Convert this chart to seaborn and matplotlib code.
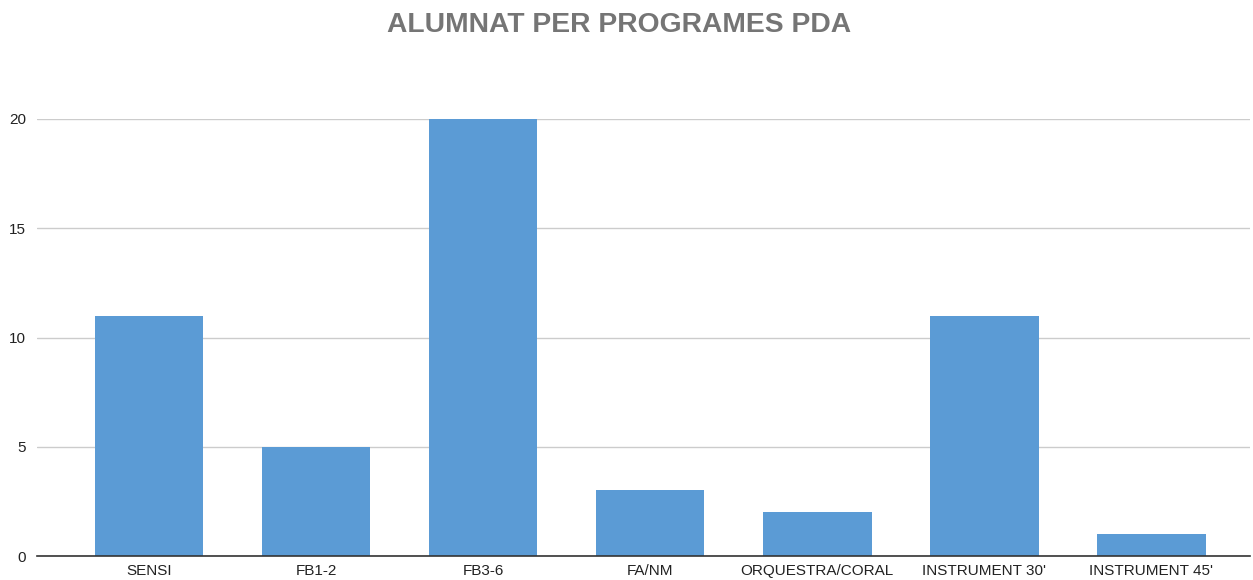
import matplotlib
matplotlib.use("Agg")
import matplotlib.pyplot as plt
import seaborn as sns
import pandas as pd

categories = ["SENSI", "FB1-2", "FB3-6", "FA/NM", "ORQUESTRA/CORAL", "INSTRUMENT 30'", "INSTRUMENT 45'"]
values = [11, 5, 20, 3, 2, 11, 1]
yticks = [0, 5, 10, 15, 20]
title = "ALUMNAT PER PROGRAMES PDA"

sns.set_theme(style="white")
plt.rcParams['font.family'] = ['Liberation Sans', 'DejaVu Sans']

df = pd.DataFrame({"cat": categories, "val": values})

W, H = 1253, 580
fig = plt.figure(figsize=(W / 100, H / 100), dpi=100)
ax = fig.add_axes([37 / W, (H - 556) / H, (1250 - 37) / W, (556 - 119) / H])

sns.barplot(data=df, x="cat", y="val", color="#5B9BD5", saturation=1, width=0.65,
            linewidth=0, ax=ax, zorder=3)

ax.set_ylim(0, 20)
ax.set_xlim(-0.67, 6.59)
ax.set_yticks(yticks)
ax.set_yticklabels([str(t) for t in yticks], fontsize=11, color="#222222")
ax.tick_params(axis="x", labelsize=11, colors="#222222", length=0, pad=6)
ax.tick_params(axis="y", length=0, pad=8)
ax.set_xlabel("")
ax.set_ylabel("")
ax.grid(axis="y", color="#cccccc", linewidth=1, zorder=0)
for s in ["top", "right", "left"]:
    ax.spines[s].set_visible(False)
ax.spines["bottom"].set_color("#333333")
ax.spines["bottom"].set_linewidth(1.2)
ax.spines["bottom"].set_zorder(4)

fig.text(619 / W, 1 - 25 / H, title, ha="center", va="center", fontsize=20.3,
         fontweight="bold", color="#757575")

fig.savefig("out.png", dpi=100)
